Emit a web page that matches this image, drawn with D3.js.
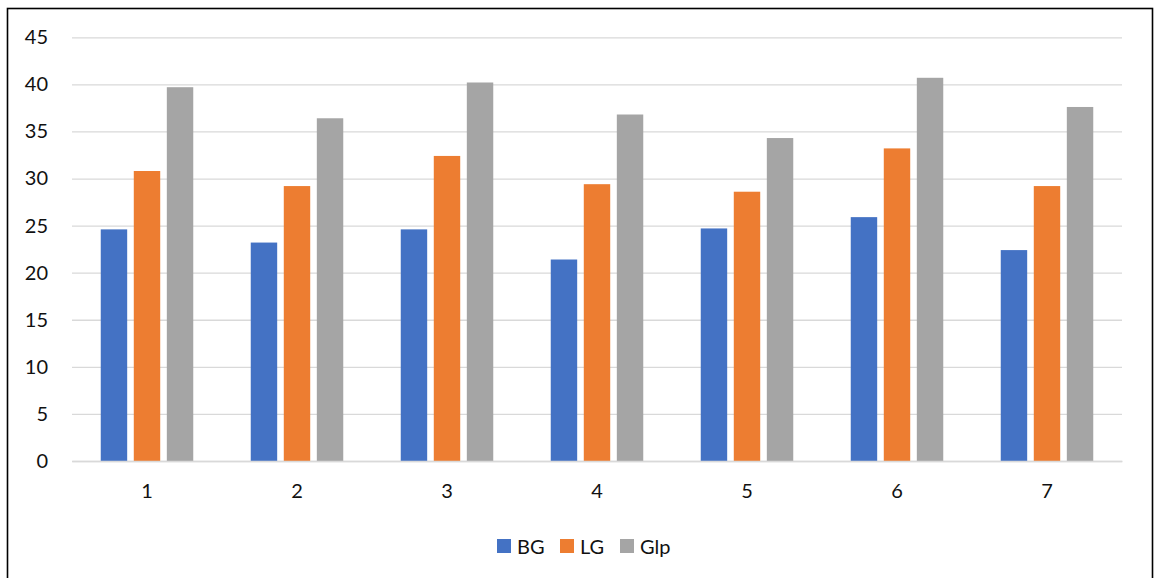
<!DOCTYPE html>
<html>
<head>
<meta charset="utf-8">
<script src="https://cdn.jsdelivr.net/npm/d3@7"></script>
<style>
html,body{margin:0;padding:0;background:#fff;}
text{font-family:Lato, "Open Sans", sans-serif;}
</style>
</head>
<body>
<svg id="chart" width="1159" height="578"></svg>
<script>
const categories = ["1","2","3","4","5","6","7"];
const seriesNames = ["BG","LG","Glp"];
const BG  = [24.6, 23.2, 24.6, 21.4, 24.7, 25.9, 22.4];
const LG  = [30.8, 29.2, 32.4, 29.4, 28.6, 33.2, 29.2];
const Glp = [39.7, 36.4, 40.2, 36.8, 34.3, 40.7, 37.6];
const yTicks = [0,5,10,15,20,25,30,35,40,45];
const colors = ["#4472C4","#ED7D31","#A5A5A5"];

const seriesValues = [BG, LG, Glp];
const svg = d3.select("#chart");

// frame
svg.append("rect").attr("x",7.5).attr("y",8.5).attr("width",1145).attr("height",600)
  .attr("fill","none").attr("stroke","#000").attr("stroke-width",1.6);

const plotLeft = 72, plotRight = 1122, plotTop = 37.3, plotBottom = 461;
const y = d3.scaleLinear().domain([0,45]).range([plotBottom, plotTop]);
const x0 = d3.scaleBand().domain(categories).range([plotLeft,plotRight]).padding(0);
const x1 = d3.scaleBand().domain(seriesNames).range([28.75, 121.25]).paddingInner(0.2).paddingOuter(0);
const color = d3.scaleOrdinal().domain(seriesNames).range(colors);

// gridlines
const yAxis = d3.axisLeft(y).tickValues(yTicks).tickSize(-(plotRight-plotLeft)).tickPadding(24);
const gy = svg.append("g").attr("transform",`translate(${plotLeft},0)`).call(yAxis);
gy.select(".domain").remove();
gy.selectAll(".tick line").attr("stroke","#d9d9d9").attr("stroke-width",1.3);
gy.selectAll(".tick text").attr("fill","#111").attr("font-size",20).attr("x",-24);

// bars
const data = categories.map((c,i)=>({cat:c, vals:seriesNames.map((s,j)=>({s, v:seriesValues[j][i]}))}));
const groups = svg.append("g").selectAll("g").data(data).join("g")
  .attr("transform", d=>`translate(${x0(d.cat)},0)`);
groups.selectAll("rect").data(d=>d.vals).join("rect")
  .attr("x", d=>x1(d.s)).attr("width", x1.bandwidth())
  .attr("y", d=>y(d.v)).attr("height", d=>y(0)-y(d.v))
  .attr("fill", d=>color(d.s));

// x axis
const xAxis = d3.axisBottom(x0).tickSize(0).tickPadding(23);
const gx = svg.append("g").attr("transform",`translate(0,${plotBottom})`).call(xAxis);
gx.select(".domain").attr("stroke","#d9d9d9").attr("stroke-width",1.3);
gx.selectAll(".tick text").attr("fill","#111").attr("font-size",20);

// legend
const legendX = [497, 560, 620];
const lg = svg.append("g").selectAll("g").data(seriesNames).join("g")
  .attr("transform",(d,i)=>`translate(${legendX[i]},539)`);
lg.append("rect").attr("width",14).attr("height",14).attr("fill",d=>color(d));
lg.append("text").attr("x",20).attr("y",14.5).attr("font-size",20).attr("fill","#111").text(d=>d);
</script>
</body>
</html>
